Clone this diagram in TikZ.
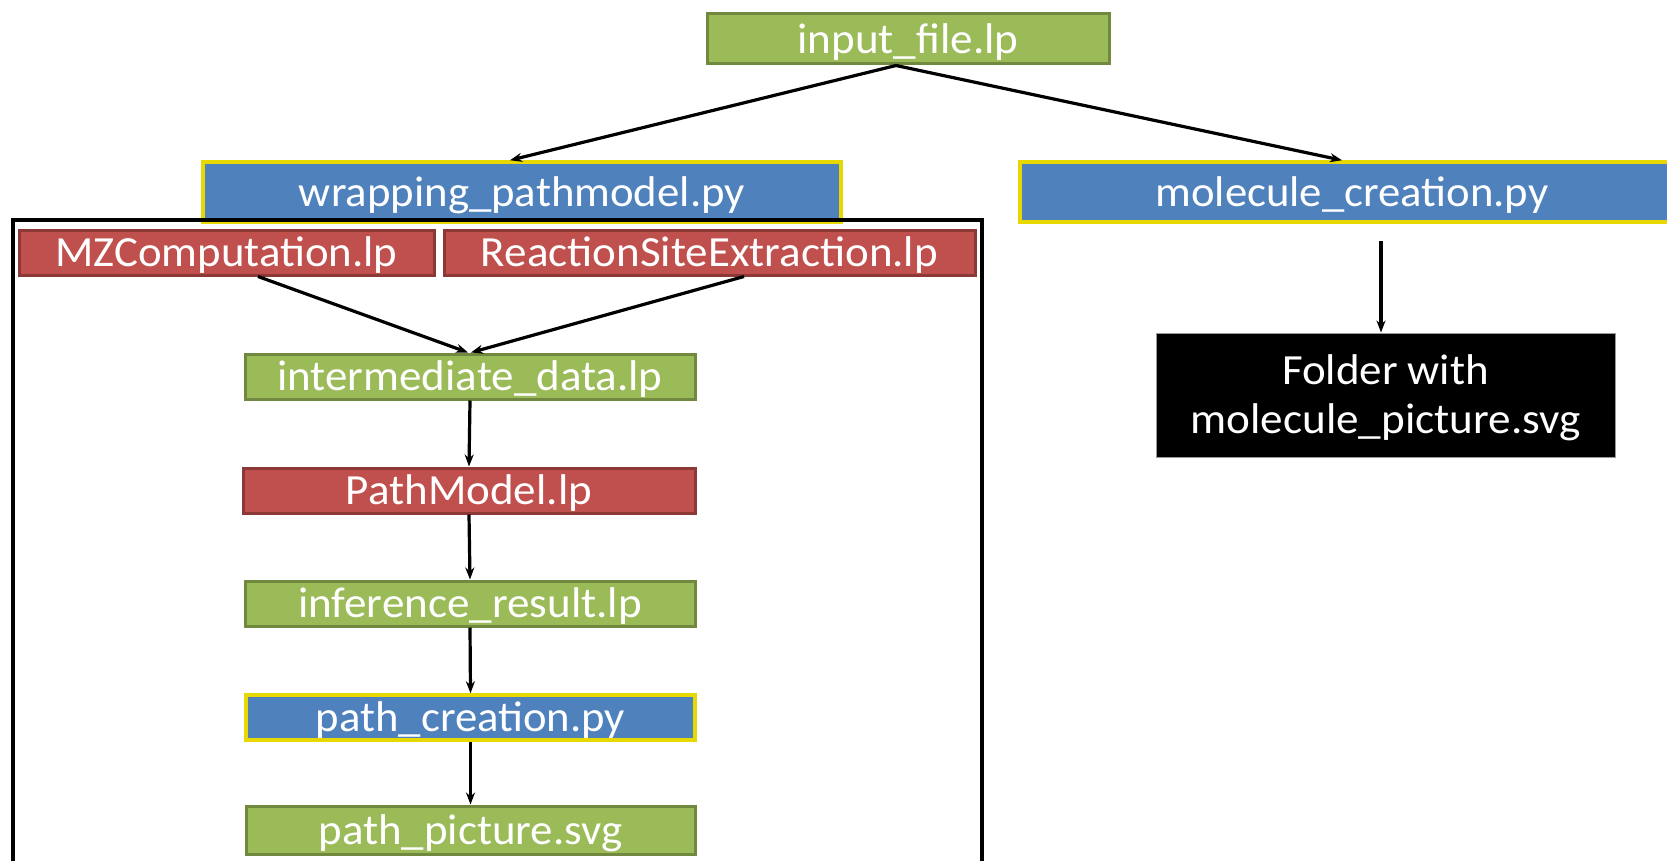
\documentclass[tikz,border=0pt]{standalone}
\usepackage{fontspec}
\setmainfont{Carlito}
\usetikzlibrary{arrows.meta,calc}
\definecolor{gfill}{HTML}{9BBB59}
\definecolor{gline}{HTML}{71893F}
\definecolor{rfill}{HTML}{C0504D}
\definecolor{rline}{HTML}{8C3836}
\definecolor{bfill}{HTML}{4F81BD}
\definecolor{yline}{HTML}{E6D800}
\newcommand{\fitw}[2]{\raisebox{-3pt}[\height][\depth]{\resizebox{#1}{\height}{#2}}}
\begin{document}
\begin{tikzpicture}[x=1pt,y=1pt,
  box/.style={rectangle, inner sep=0pt, text=white, font=\fontsize{43}{49}\selectfont},
  gbox/.style={box, fill=gfill, draw=gline, line width=3pt},
  rbox/.style={box, fill=rfill, draw=rline, line width=3pt},
  bbox/.style={box, fill=bfill, draw=yline, line width=3.5pt},
  kbox/.style={box, fill=black, draw=black!40, line width=1pt, align=center},
  arr/.style={-{Stealth[length=12pt,width=9pt]}, line width=3.2pt}
]
\clip (0,0) rectangle (1667,-861);
\fill[white] (0,0) rectangle (1667,-861);

\node[gbox, minimum width=402pt, minimum height=50pt] (in) at (908,-39) {\fitw{221pt}{input\_file.lp}};
\node[bbox, minimum width=638pt, minimum height=60pt] (wrap) at (522,-192) {\fitw{446pt}{wrapping\_pathmodel.py}};
\node[bbox, minimum width=664pt, minimum height=60pt] (mol) at (1352,-192) {\fitw{393pt}{molecule\_creation.py}};

\node[rbox, minimum width=415pt, minimum height=45pt] (mz) at (226.5,-252.5) {\fitw{342pt}{MZComputation.lp}};
\node[rbox, minimum width=531pt, minimum height=45pt] (rse) at (709.5,-252.5) {\fitw{457pt}{ReactionSiteExtraction.lp}};

\node[gbox, minimum width=450pt, minimum height=45pt] (inter) at (470,-376.5) {\fitw{385pt}{intermediate\_data.lp}};
\node[rbox, minimum width=452pt, minimum height=45pt] (pm) at (469,-490.5) {\fitw{246pt}{PathModel.lp}};
\node[gbox, minimum width=450pt, minimum height=45pt] (inf) at (470,-603.5) {\fitw{344pt}{inference\_result.lp}};
\node[bbox, minimum width=449pt, minimum height=45pt] (pc) at (470.5,-717.5) {\fitw{309pt}{path\_creation.py}};
\node[gbox, minimum width=449pt, minimum height=48pt] (pp) at (470.5,-830) {\fitw{304pt}{path\_picture.svg}};

\node[kbox, minimum width=459pt, minimum height=124pt] (folder) at (1385.5,-395) {\fitw{207pt}{Folder with}\\\fitw{390pt}{molecule\_picture.svg}};

% frame around the wrapped scripts
\draw[line width=3.5pt] (13,-220) rectangle (982,-900);

\draw[arr] ([xshift=-12pt]in.south) -- ([xshift=-12pt]wrap.north);
\draw[arr] ([xshift=-12pt]in.south) -- ([xshift=-10pt]mol.north);
\draw[arr] ([xshift=31.5pt]mz.south) -- ([xshift=-2pt]inter.north);
\draw[arr] ([xshift=34.5pt]rse.south) -- ([xshift=1pt]inter.north);
\draw[arr] (inter.south) -- (pm.north);
\draw[arr] (pm.south) -- (inf.north);
\draw[arr] (inf.south) -- (pc.north);
\draw[arr] (pc.south) -- (pp.north);
\coordinate (m1) at (1381,-241);
\draw[arr] (m1) -- (m1 |- folder.north);
\end{tikzpicture}
\end{document}
